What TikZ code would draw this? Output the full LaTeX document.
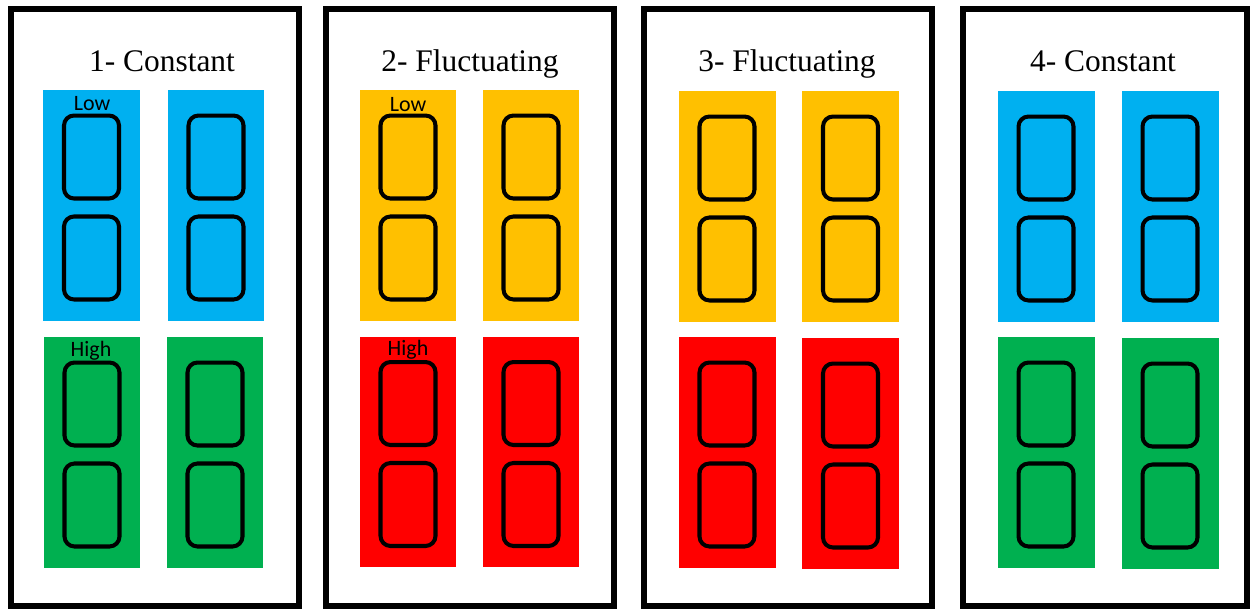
\documentclass[tikz,border=0pt]{standalone}
\usepackage{fontspec}
\setmainfont{Liberation Serif}
\newfontfamily\labelfont{Carlito}

\definecolor{lowblue}{HTML}{00B0F0}
\definecolor{highgreen}{HTML}{00B050}
\definecolor{lowyellow}{HTML}{FFC000}
\definecolor{highred}{HTML}{FF0000}

\begin{document}
\begin{tikzpicture}[x=0.02cm, y=-0.02cm,
  panel/.style={draw, line width=3.4pt, minimum width=5.76cm, minimum height=11.94cm, inner sep=0pt},
  bar/.style={minimum width=1.94cm, minimum height=4.62cm, inner sep=0pt},
  cell/.style={draw, line width=2.3pt, rounded corners=0.2cm, minimum width=1.1cm, minimum height=1.66cm, inner sep=0pt},
  topcell/.style={cell, yshift=0.97cm},
  botcell/.style={cell, yshift=-1.05cm},
  title/.style={anchor=base, font=\fontsize{17.9}{20}\selectfont},
  level/.style={anchor=base, font=\labelfont\fontsize{12.5}{14}\selectfont}]
\useasboundingbox (0,0) rectangle (1250,609);

% panels
\node[panel](P1) at (155,307.5) {};
\node[panel](P2) at (470,307.5) {};
\node[panel](P3) at (788,307.5) {};
\node[panel, minimum width=5.68cm](P4) at (1105,307.5) {};

\node[title](T1) at (162,71) {1- Constant};
\node[title](T2) at (470,71) {2- Fluctuating};
\node[title](T3) at (787,71) {3- Fluctuating};
\node[title](T4) at (1103,71) {4- Constant};

% bars
\node[bar, fill=lowblue](B1a) at (91.5,205.5) {};
\node[bar, fill=lowblue](B1b) at (216,205.5) {};
\node[bar, fill=highgreen](B1c) at (92,452.5) {};
\node[bar, fill=highgreen](B1d) at (215,452.5) {};

\node[bar, fill=lowyellow](B2a) at (408,205.5) {};
\node[bar, fill=lowyellow](B2b) at (531,205.5) {};
\node[bar, fill=highred](B2c) at (408,452) {};
\node[bar, fill=highred](B2d) at (531,452) {};

\node[bar, fill=lowyellow](B3a) at (727,206.5) {};
\node[bar, fill=lowyellow](B3b) at (850.5,206.5) {};
\node[bar, fill=highred](B3c) at (727,452.5) {};
\node[bar, fill=highred](B3d) at (850.5,453.5) {};

\node[bar, fill=lowblue](B4a) at (1046,206.5) {};
\node[bar, fill=lowblue](B4b) at (1170,206.5) {};
\node[bar, fill=highgreen](B4c) at (1046,452.5) {};
\node[bar, fill=highgreen](B4d) at (1170,453.5) {};

% cells
\node[topcell](C1a1) at (B1a) {};
\node[botcell](C1a2) at (B1a) {};
\node[topcell](C1b1) at (B1b) {};
\node[botcell](C1b2) at (B1b) {};
\node[topcell](C1c1) at (B1c) {};
\node[botcell](C1c2) at (B1c) {};
\node[topcell](C1d1) at (B1d) {};
\node[botcell](C1d2) at (B1d) {};

\node[topcell](C2a1) at (B2a) {};
\node[botcell](C2a2) at (B2a) {};
\node[topcell](C2b1) at (B2b) {};
\node[botcell](C2b2) at (B2b) {};
\node[topcell](C2c1) at (B2c) {};
\node[botcell](C2c2) at (B2c) {};
\node[topcell](C2d1) at (B2d) {};
\node[botcell](C2d2) at (B2d) {};

\node[topcell](C3a1) at (B3a) {};
\node[botcell](C3a2) at (B3a) {};
\node[topcell](C3b1) at (B3b) {};
\node[botcell](C3b2) at (B3b) {};
\node[topcell](C3c1) at (B3c) {};
\node[botcell](C3c2) at (B3c) {};
\node[topcell](C3d1) at (B3d) {};
\node[botcell](C3d2) at (B3d) {};

\node[topcell](C4a1) at (B4a) {};
\node[botcell](C4a2) at (B4a) {};
\node[topcell](C4b1) at (B4b) {};
\node[botcell](C4b2) at (B4b) {};
\node[topcell](C4c1) at (B4c) {};
\node[botcell](C4c2) at (B4c) {};
\node[topcell](C4d1) at (B4d) {};
\node[botcell](C4d2) at (B4d) {};

% labels
\node[level](L1) at (92,110.5) {Low};
\node[level](H1) at (91,356) {High};
\node[level](L2) at (408,111.5) {Low};
\node[level](H2) at (408,355) {High};
\end{tikzpicture}
\end{document}
